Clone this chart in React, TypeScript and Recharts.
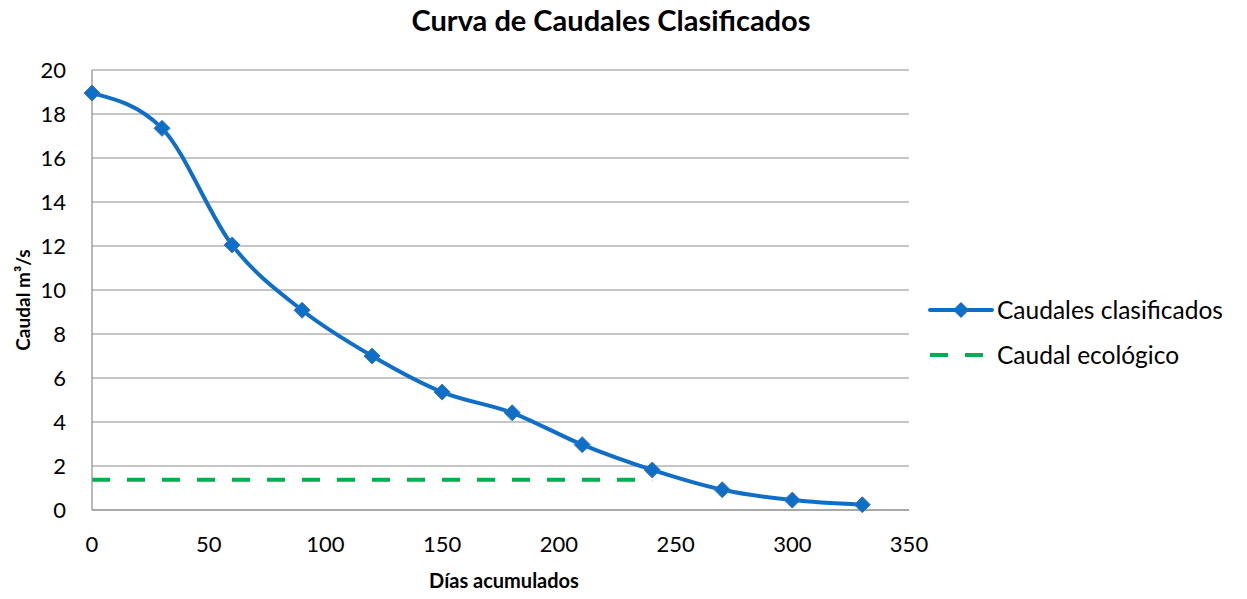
import React from "react";
import {
  LineChart,
  Line,
  XAxis,
  YAxis,
  CartesianGrid,
} from "recharts";

// Días acumulados y caudales
const dias = [0, 30, 60, 90, 120, 150, 180, 210, 240, 270, 300, 330];
const caudales = [18.95, 17.35, 12.05, 9.08, 7.0, 5.36, 4.42, 2.97, 1.82, 0.92, 0.45, 0.24];

// Caudal ecológico (tramo horizontal)
const diasEcologico = [0, 240];
const caudalEcologico = [1.38, 1.38];

const xTicks = [0, 50, 100, 150, 200, 250, 300, 350];
const yTicks = [0, 2, 4, 6, 8, 10, 12, 14, 16, 18, 20];

const BLUE = "#0F6EC6";
const GREEN = "#00B050";
const GRID = "#8C8C8C";
const FONT = "Lato, 'Open Sans', sans-serif";

const clasificados = dias.map((d, i) => ({ dia: d, caudal: caudales[i] }));
const ecologico = diasEcologico.map((d, i) => ({ dia: d, eco: caudalEcologico[i] }));

const Diamond = (props: any) => {
  const { cx, cy } = props;
  if (cx == null || cy == null) return null;
  const r = 8;
  return (
    <path
      d={`M${cx},${cy - r} L${cx + r},${cy} L${cx},${cy + r} L${cx - r},${cy} Z`}
      fill={BLUE}
      stroke="#3A76B8"
      strokeWidth={1}
    />
  );
};

// Leyenda dibujada aparte para no recortar el área del gráfico
const LegendBox = () => (
  <div
    style={{
      position: "absolute",
      left: 928,
      top: 287,
      fontFamily: FONT,
      fontSize: 24.5,
      color: "#000",
    }}
  >
    <div style={{ display: "flex", alignItems: "center", height: 45 }}>
      <svg width={68} height={20}>
        <line x1={2} y1={10} x2={64} y2={10} stroke={BLUE} strokeWidth={4} strokeLinecap="round" />
        <path d="M33,2 L41,10 L33,18 L25,10 Z" fill={BLUE} />
      </svg>
      <span style={{ marginLeft: 1 }}>Caudales clasificados</span>
    </div>
    <div style={{ display: "flex", alignItems: "center", height: 45 }}>
      <svg width={68} height={20}>
        <line x1={2} y1={10} x2={64} y2={10} stroke={GREEN} strokeWidth={4} strokeDasharray="18 17" />
      </svg>
      <span style={{ marginLeft: 1 }}>Caudal ecológico</span>
    </div>
  </div>
);

export default function App() {
  return (
    <div
      style={{
        position: "absolute",
        left: 0,
        top: 0,
        width: 1247,
        height: 599,
        background: "#fff",
        fontFamily: FONT,
      }}
    >
      <div
        style={{
          position: "absolute",
          top: 2,
          left: 0,
          width: 1222,
          textAlign: "center",
          fontSize: 29,
          fontWeight: 700,
        }}
      >
        Curva de Caudales Clasificados
      </div>
      <div
        style={{
          position: "absolute",
          top: 568,
          left: 0,
          width: 1008,
          textAlign: "center",
          fontSize: 20,
          fontWeight: 700,
        }}
      >
        Días acumulados
      </div>
      <div
        style={{
          position: "absolute",
          left: 22,
          top: 300,
          transform: "translate(-50%, -50%) rotate(-90deg)",
          fontSize: 19,
          fontWeight: 700,
          whiteSpace: "nowrap",
        }}
      >
        Caudal m³/s
      </div>
      <LineChart
        width={1247}
        height={599}
        margin={{ top: 70, right: 338, bottom: 0, left: 32 }}
        style={{ position: "absolute", left: 0, top: 0 }}
      >
        <CartesianGrid horizontal vertical={false} stroke={GRID} strokeWidth={1.2} />
        <XAxis
          dataKey="dia"
          type="number"
          domain={[0, 350]}
          ticks={xTicks}
          allowDuplicatedCategory={false}
          height={89}
          tickLine={false}
          tickSize={0}
          tickMargin={26}
          axisLine={{ stroke: GRID, strokeWidth: 1.2 }}
          tick={{ fill: "#000", fontSize: 22, fontFamily: FONT }}
        />
        <YAxis
          type="number"
          domain={[0, 20]}
          ticks={yTicks}
          width={60}
          tickLine={false}
          tickSize={0}
          tickMargin={26}
          axisLine={{ stroke: GRID, strokeWidth: 1.2 }}
          tick={{ fill: "#000", fontSize: 22, fontFamily: FONT }}
        />
        <Line
          data={ecologico}
          dataKey="eco"
          type="linear"
          stroke={GREEN}
          strokeWidth={4}
          strokeDasharray="18 17"
          dot={false}
          activeDot={false}
          isAnimationActive={false}
        />
        <Line
          data={clasificados}
          dataKey="caudal"
          type="monotone"
          stroke={BLUE}
          strokeWidth={4}
          dot={<Diamond />}
          activeDot={false}
          isAnimationActive={false}
        />
      </LineChart>
      <LegendBox />
    </div>
  );
}
